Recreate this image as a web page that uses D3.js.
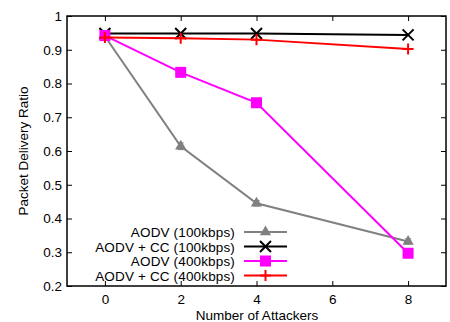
<!DOCTYPE html>
<html>
<head>
<meta charset="utf-8">
<script src="https://cdn.jsdelivr.net/npm/d3@7"></script>
<style>
  body { margin: 0; background: #fff; }
  text { font-family: "Liberation Sans", Arial, Helvetica, sans-serif; }
</style>
</head>
<body>
<svg id="chart" width="450" height="322"></svg>
<script>
// Number of attackers on the x axis
const attackers = [0, 2, 4, 8];

// Packet delivery ratio per configuration
const aodv100 = [0.940, 0.614, 0.445, 0.332];
const aodv100Err = [0.006, 0.010, 0.008, 0.008];
const aodvCC100 = [0.948, 0.948, 0.948, 0.944];
const aodv400 = [0.942, 0.833, 0.743, 0.297];
const aodvCC400 = [0.936, 0.934, 0.930, 0.902];

const seriesNames = ["AODV (100kbps)", "AODV + CC (100kbps)", "AODV (400kbps)", "AODV + CC (400kbps)"];

const xTicks = [0, 2, 4, 6, 8];
const yTicks = [0.2, 0.3, 0.4, 0.5, 0.6, 0.7, 0.8, 0.9, 1];

const series = [
  { name: seriesNames[0], values: aodv100, err: aodv100Err, color: "#808080", marker: "triangle" },
  { name: seriesNames[1], values: aodvCC100, color: "#000000", marker: "cross" },
  { name: seriesNames[2], values: aodv400, color: "#ff00ff", marker: "square" },
  { name: seriesNames[3], values: aodvCC400, color: "#ff0000", marker: "plus" }
];

const svg = d3.select("#chart");
const m = { left: 67, right: 446, top: 16, bottom: 286 };
const fontSize = 13.5;

const x = d3.scaleLinear().domain([-1, 9]).range([m.left, m.right]);
const y = d3.scaleLinear().domain([0.2, 1]).range([m.bottom, m.top]);

// axes: ticks inward on all four sides
const tickLen = 5;
const fmtY = d => d === 1 ? "1" : d3.format(".1f")(d);

const gx = svg.append("g").attr("transform", `translate(0,${m.bottom})`)
  .call(d3.axisBottom(x).tickValues(xTicks).tickSize(-tickLen).tickPadding(8).tickFormat(d3.format("d")));
const gxTop = svg.append("g").attr("transform", `translate(0,${m.top})`)
  .call(d3.axisTop(x).tickValues(xTicks).tickSize(-tickLen).tickFormat(""));
const gy = svg.append("g").attr("transform", `translate(${m.left},0)`)
  .call(d3.axisLeft(y).tickValues(yTicks).tickSize(-tickLen).tickPadding(5).tickFormat(fmtY));
const gyRight = svg.append("g").attr("transform", `translate(${m.right},0)`)
  .call(d3.axisRight(y).tickValues(yTicks).tickSize(-tickLen).tickFormat(""));

[gx, gxTop, gy, gyRight].forEach(g => {
  g.select(".domain").remove();
  g.selectAll(".tick line").attr("stroke", "#000").attr("stroke-width", 1);
  g.selectAll(".tick text").attr("font-size", fontSize).attr("fill", "#000")
    .attr("font-family", "'Liberation Sans', Arial, sans-serif");
});

// frame
svg.append("rect")
  .attr("x", m.left).attr("y", m.top)
  .attr("width", m.right - m.left).attr("height", m.bottom - m.top)
  .attr("fill", "none").attr("stroke", "#000").attr("stroke-width", 1.5);

// axis titles
svg.append("text")
  .attr("x", 257).attr("y", 320)
  .attr("text-anchor", "middle").attr("font-size", fontSize)
  .text("Number of Attackers");
svg.append("text")
  .attr("transform", `translate(28,${(m.top + m.bottom) / 2}) rotate(-90)`)
  .attr("text-anchor", "middle").attr("font-size", fontSize)
  .text("Packet Delivery Ratio");

function drawMarker(g, cx, cy, s) {
  const c = s.color;
  if (s.marker === "triangle") {
    g.append("path")
      .attr("d", d3.symbol().type(d3.symbolTriangle).size(55)())
      .attr("transform", `translate(${cx},${cy})`)
      .attr("fill", c);
  } else if (s.marker === "cross") {
    const r = 5.5;
    g.append("path")
      .attr("d", `M${cx - r},${cy - r}L${cx + r},${cy + r}M${cx - r},${cy + r}L${cx + r},${cy - r}`)
      .attr("stroke", c).attr("stroke-width", 2).attr("fill", "none");
  } else if (s.marker === "square") {
    const r = 5.5;
    g.append("rect").attr("x", cx - r).attr("y", cy - r)
      .attr("width", 2 * r).attr("height", 2 * r).attr("fill", c);
  } else if (s.marker === "plus") {
    const r = 5.5;
    g.append("path")
      .attr("d", `M${cx - r},${cy}L${cx + r},${cy}M${cx},${cy - r}L${cx},${cy + r}`)
      .attr("stroke", c).attr("stroke-width", 2).attr("fill", "none");
  }
}

const line = d3.line().x(d => x(d[0])).y(d => y(d[1]));
const plot = svg.append("g");

series.forEach(s => {
  const pts = attackers.map((a, i) => [a, s.values[i]]);
  plot.append("path").datum(pts)
    .attr("d", line).attr("fill", "none")
    .attr("stroke", s.color).attr("stroke-width", 2);
  if (s.err) {
    pts.forEach((p, i) => {
      const x0 = x(p[0]), y1 = y(p[1] - s.err[i]), y2 = y(p[1] + s.err[i]);
      plot.append("path")
        .attr("d", `M${x0},${y1}L${x0},${y2}M${x0 - 3},${y1}L${x0 + 3},${y1}M${x0 - 3},${y2}L${x0 + 3},${y2}`)
        .attr("stroke", s.color).attr("stroke-width", 1).attr("fill", "none");
    });
  }
  pts.forEach(p => drawMarker(plot, x(p[0]), y(p[1]), s));
});

// legend
const legRows = [232, 246.5, 261, 275.5];
const legend = svg.append("g");
series.forEach((s, i) => {
  const ly = legRows[i];
  legend.append("text")
    .attr("x", 235).attr("y", ly + 5)
    .attr("text-anchor", "end").attr("font-size", fontSize)
    .attr("letter-spacing", 0.15)
    .text(s.name);
  legend.append("line")
    .attr("x1", 244).attr("x2", 287).attr("y1", ly).attr("y2", ly)
    .attr("stroke", s.color).attr("stroke-width", 2);
  drawMarker(legend, 265.5, ly, s);
});
</script>
</body>
</html>
